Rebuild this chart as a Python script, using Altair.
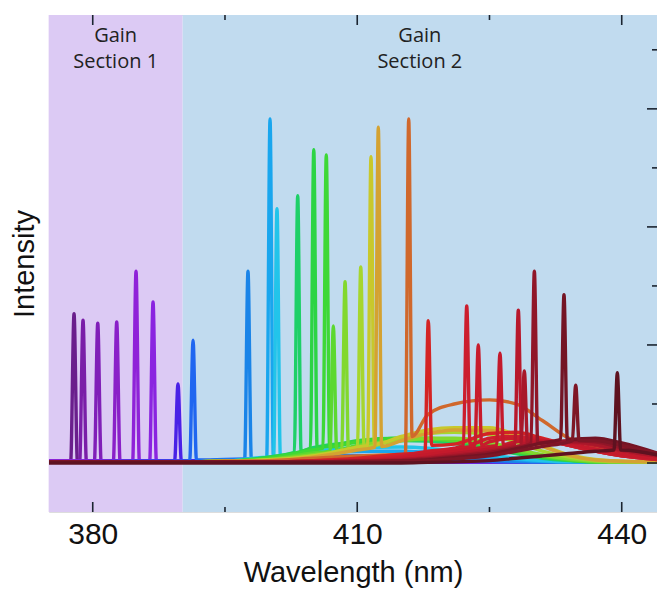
import altair as alt
import pandas as pd

# ---------------- data ----------------
wl_grid = [375, 390, 395, 400, 405, 410, 415, 418, 421, 425, 428, 431, 434, 437, 440, 444.0]

peak_wl = [377.88, 378.90, 380.57, 382.72, 384.91, 386.84, 389.67, 391.38, 397.61, 400.11,
           400.90, 403.25, 405.07, 406.49, 407.29, 408.62, 410.40, 411.56, 412.39, 415.84,
           418.06, 422.42, 423.73, 426.19, 428.27, 428.95, 430.09, 433.45, 434.78, 439.50]
peak_height = [2.53, 2.42, 2.37, 2.39, 3.25, 2.73, 1.34, 2.08, 3.25, 5.83,
               4.31, 4.53, 5.31, 5.22, 2.32, 3.07, 3.32, 5.19, 5.69, 5.83,
               2.41, 2.66, 2.00, 1.86, 2.59, 1.56, 3.25, 2.85, 1.32, 1.53]
base_left = [0.03, 0.03, 0.03, 0.03, 0.03, 0.03, 0.04, 0.04, 0.06, 0.08,
             0.10, 0.18, 0.25, 0.25, 0.20, 0.22, 0.26, 0.30, 0.27, 0.14,
             0.17, 0.30, 0.30, 0.30, 0.32, 0.30, 0.33, 0.40, 0.38, 0.22]
base_right = [0.03, 0.03, 0.03, 0.03, 0.03, 0.03, 0.04, 0.05, 0.07, 0.09,
              0.12, 0.20, 0.26, 0.27, 0.22, 0.24, 0.27, 0.32, 0.28, 0.45,
              0.30, 0.32, 0.30, 0.31, 0.33, 0.30, 0.34, 0.40, 0.38, 0.22]

hump_levels = [
    [0.03, 0.03, 0.03, 0.03, 0.02, 0.02, 0.02, 0.02, 0.02, 0.02, 0.02, 0.02, 0.02, 0.02, 0.02, 0.02],
    [0.03, 0.03, 0.03, 0.03, 0.02, 0.02, 0.02, 0.02, 0.02, 0.02, 0.02, 0.02, 0.02, 0.02, 0.02, 0.02],
    [0.03, 0.03, 0.03, 0.03, 0.02, 0.02, 0.02, 0.02, 0.02, 0.02, 0.02, 0.02, 0.02, 0.02, 0.02, 0.02],
    [0.03, 0.03, 0.03, 0.03, 0.02, 0.02, 0.02, 0.02, 0.02, 0.02, 0.02, 0.02, 0.02, 0.02, 0.02, 0.02],
    [0.03, 0.03, 0.03, 0.03, 0.02, 0.02, 0.02, 0.02, 0.02, 0.02, 0.02, 0.02, 0.02, 0.02, 0.02, 0.02],
    [0.03, 0.03, 0.03, 0.03, 0.02, 0.02, 0.02, 0.02, 0.02, 0.02, 0.02, 0.02, 0.02, 0.02, 0.02, 0.02],
    [0.02, 0.03, 0.04, 0.04, 0.03, 0.03, 0.02, 0.02, 0.02, 0.02, 0.02, 0.02, 0.02, 0.02, 0.02, 0.02],
    [0.02, 0.03, 0.06, 0.08, 0.10, 0.10, 0.08, 0.06, 0.05, 0.03, 0.02, 0.02, 0.02, 0.02, 0.02, 0.02],
    [0.02, 0.02, 0.05, 0.08, 0.12, 0.13, 0.12, 0.10, 0.08, 0.05, 0.03, 0.02, 0.02, 0.02, 0.02, 0.02],
    [0.02, 0.02, 0.03, 0.08, 0.15, 0.20, 0.20, 0.18, 0.15, 0.10, 0.06, 0.03, 0.02, 0.02, 0.02, 0.02],
    [0.02, 0.02, 0.03, 0.10, 0.20, 0.26, 0.27, 0.25, 0.20, 0.14, 0.08, 0.04, 0.02, 0.02, 0.02, 0.02],
    [0.02, 0.02, 0.03, 0.10, 0.26, 0.35, 0.38, 0.37, 0.33, 0.25, 0.16, 0.08, 0.04, 0.02, 0.02, 0.02],
    [0.02, 0.02, 0.03, 0.10, 0.26, 0.38, 0.42, 0.41, 0.37, 0.28, 0.18, 0.10, 0.05, 0.02, 0.02, 0.02],
    [0.02, 0.02, 0.03, 0.08, 0.22, 0.36, 0.42, 0.42, 0.38, 0.30, 0.20, 0.11, 0.05, 0.02, 0.02, 0.02],
    [0.02, 0.02, 0.03, 0.06, 0.17, 0.30, 0.38, 0.40, 0.38, 0.30, 0.20, 0.12, 0.06, 0.02, 0.02, 0.02],
    [0.02, 0.02, 0.03, 0.06, 0.14, 0.28, 0.38, 0.42, 0.42, 0.35, 0.24, 0.14, 0.07, 0.03, 0.02, 0.02],
    [0.02, 0.02, 0.03, 0.05, 0.12, 0.26, 0.42, 0.50, 0.52, 0.48, 0.35, 0.20, 0.10, 0.04, 0.02, 0.02],
    [0.02, 0.02, 0.03, 0.05, 0.12, 0.27, 0.45, 0.56, 0.60, 0.60, 0.48, 0.30, 0.14, 0.06, 0.03, 0.02],
    [0.02, 0.02, 0.03, 0.04, 0.10, 0.22, 0.38, 0.50, 0.56, 0.55, 0.45, 0.28, 0.13, 0.05, 0.03, 0.02],
    [0.02, 0.02, 0.03, 0.04, 0.08, 0.12, 0.14, 0.82, 1.00, 1.07, 1.00, 0.72, 0.42, 0.28, 0.18, 0.11],
    [0.02, 0.02, 0.02, 0.02, 0.04, 0.08, 0.15, 0.25, 0.32, 0.50, 0.52, 0.42, 0.30, 0.20, 0.12, 0.06],
    [0.02, 0.02, 0.02, 0.02, 0.03, 0.06, 0.12, 0.20, 0.25, 0.42, 0.45, 0.40, 0.30, 0.20, 0.12, 0.06],
    [0.02, 0.02, 0.02, 0.02, 0.03, 0.05, 0.10, 0.18, 0.24, 0.36, 0.42, 0.38, 0.30, 0.20, 0.12, 0.07],
    [0.02, 0.02, 0.02, 0.02, 0.03, 0.04, 0.08, 0.14, 0.20, 0.28, 0.36, 0.38, 0.32, 0.24, 0.15, 0.08],
    [0.02, 0.02, 0.02, 0.02, 0.02, 0.04, 0.06, 0.10, 0.16, 0.24, 0.32, 0.36, 0.35, 0.30, 0.20, 0.12],
    [0.02, 0.02, 0.02, 0.02, 0.02, 0.03, 0.05, 0.08, 0.13, 0.20, 0.28, 0.34, 0.36, 0.32, 0.22, 0.12],
    [0.02, 0.02, 0.02, 0.02, 0.02, 0.03, 0.04, 0.07, 0.11, 0.18, 0.26, 0.34, 0.38, 0.36, 0.26, 0.14],
    [0.02, 0.02, 0.02, 0.02, 0.02, 0.02, 0.03, 0.05, 0.09, 0.15, 0.24, 0.34, 0.40, 0.42, 0.34, 0.17],
    [0.02, 0.02, 0.02, 0.02, 0.02, 0.02, 0.03, 0.04, 0.07, 0.12, 0.20, 0.28, 0.36, 0.38, 0.30, 0.16],
    [0.00, 0.00, 0.00, 0.00, 0.00, 0.00, 0.00, 0.01, 0.02, 0.04, 0.08, 0.12, 0.16, 0.20, 0.22, 0.14],
]

series_colors = ["#6a1e8c", "#7a1ea8", "#801fb8", "#8a20c8", "#8f22d8", "#8a24e0", "#4a22e6",
                 "#2066f0", "#1a84e8", "#19a6ee", "#22c4ea", "#1ed068", "#2cd444", "#3ed836",
                 "#5cd830", "#82d82e", "#a6d62e", "#c8c82c", "#d4a232", "#d0682c", "#d42424",
                 "#cc1e2e", "#c81c2c", "#c41a2c", "#b8182c", "#a8182a", "#901628", "#741424",
                 "#7e1626", "#5e1220"]

region_start = [375.0, 390.2]
region_end = [390.2, 444.0]
region_label = ["Gain\nSection 1", "Gain\nSection 2"]
region_color = ["#dccaf4", "#c1dbef"]

x_major_ticks = [380, 410, 440]
x_minor_ticks = [395, 425]
y_major_ticks = [0, 2, 4, 6]
y_minor_ticks = [1, 3, 5, 7]

# ---------------- build tables ----------------
W, H = 608, 497
HW = 0.38
series_ids = [f"s{i + 1:02d}" for i in range(len(peak_wl))]
rows = []
for i, sid in enumerate(series_ids):
    c = peak_wl[i]
    pts = [(x, v) for x, v in zip(wl_grid, hump_levels[i]) if x < c - HW - 0.05]
    pts += [(c - HW, base_left[i]), (c, peak_height[i]), (c + HW, base_right[i])]
    pts += [(x, v) for x, v in zip(wl_grid, hump_levels[i]) if x > c + HW + 0.05]
    for k, (x, v) in enumerate(pts):
        rows.append({"series": sid, "wl": x, "val": v, "k": k})
spec_df = pd.DataFrame(rows)

reg_df = pd.DataFrame({"start": region_start, "end": region_end,
                       "label": region_label, "region": ["r1", "r2"]})

xscale = alt.Scale(domain=[375.04, 444.0], nice=False, zero=False)
yscale = alt.Scale(domain=[-0.83, 7.59], nice=False, zero=False)

TXT = "#111111"
FONT = "Liberation Sans"

xa = alt.Axis(values=x_major_ticks, ticks=False, domain=False, grid=False,
              labelFont=FONT, labelFontSize=30, labelColor=TXT, labelPadding=7,
              title="Wavelength (nm)", titleFont=FONT, titleFontSize=29,
              titleFontWeight="normal", titleColor=TXT, titlePadding=9)
ya = alt.Axis(labels=False, ticks=False, domain=False, grid=False,
              title="Intensity", titleFont=FONT, titleFontSize=29,
              titleFontWeight="normal", titleColor=TXT, titlePadding=10)

bg = alt.Chart(reg_df).mark_rect().encode(
    x=alt.X("start:Q", scale=xscale, axis=xa),
    x2="end:Q",
    fill=alt.Fill("region:N", scale=alt.Scale(domain=["r1", "r2"], range=region_color), legend=None),
)

lines = alt.Chart(spec_df).mark_line(strokeWidth=3.4, strokeJoin="round", strokeCap="round",
                                     interpolate="monotone", clip=True).encode(
    x=alt.X("wl:Q", scale=xscale, axis=xa),
    y=alt.Y("val:Q", scale=yscale, axis=ya),
    stroke=alt.Stroke("series:N", scale=alt.Scale(domain=series_ids, range=series_colors),
                      legend=None),
    order="k:Q",
)

TICKC = "#1b2430"
xmaj = pd.DataFrame({"t": x_major_ticks})
xmin = pd.DataFrame({"t": x_minor_ticks})
ymaj = pd.DataFrame({"t": y_major_ticks})
ymin = pd.DataFrame({"t": y_minor_ticks})


def xticks(df, length, top):
    if top:
        return alt.Chart(df).mark_rule(color=TICKC, strokeWidth=1.6).encode(
            x=alt.X("t:Q", scale=xscale, axis=xa), y=alt.value(0), y2=alt.value(length))
    return alt.Chart(df).mark_rule(color=TICKC, strokeWidth=1.6).encode(
        x=alt.X("t:Q", scale=xscale, axis=xa), y=alt.value(H), y2=alt.value(H - length))


def yticks(df, length):
    return alt.Chart(df).mark_rule(color=TICKC, strokeWidth=1.6).encode(
        y=alt.Y("t:Q", scale=yscale, axis=ya), x=alt.value(W), x2=alt.value(W - length))


labels = alt.Chart(reg_df).transform_calculate(mid="(datum.start + datum.end) / 2").mark_text(
    lineBreak="\n", align="center", baseline="alphabetic", font="Open Sans", fontSize=20,
    lineHeight=26, color="#222222").encode(
    x=alt.X("mid:Q", scale=xscale, axis=xa),
    y=alt.value(27),
    text="label:N",
)

chart = alt.layer(
    bg, lines,
    xticks(xmaj, 10, False), xticks(xmin, 5, False),
    xticks(xmaj, 10, True), xticks(xmin, 5, True),
    yticks(ymaj, 10), yticks(ymin, 5),
    labels,
).properties(
    width=W, height=H,
    autosize=alt.AutoSizeParams(type="none"),
    padding={"left": 41, "top": 7, "right": 0, "bottom": 78},
).configure_view(stroke="#1e2030", strokeWidth=1.6).configure(background="white")

chart.save("out.html", embed_options={"renderer": "svg", "actions": False})
